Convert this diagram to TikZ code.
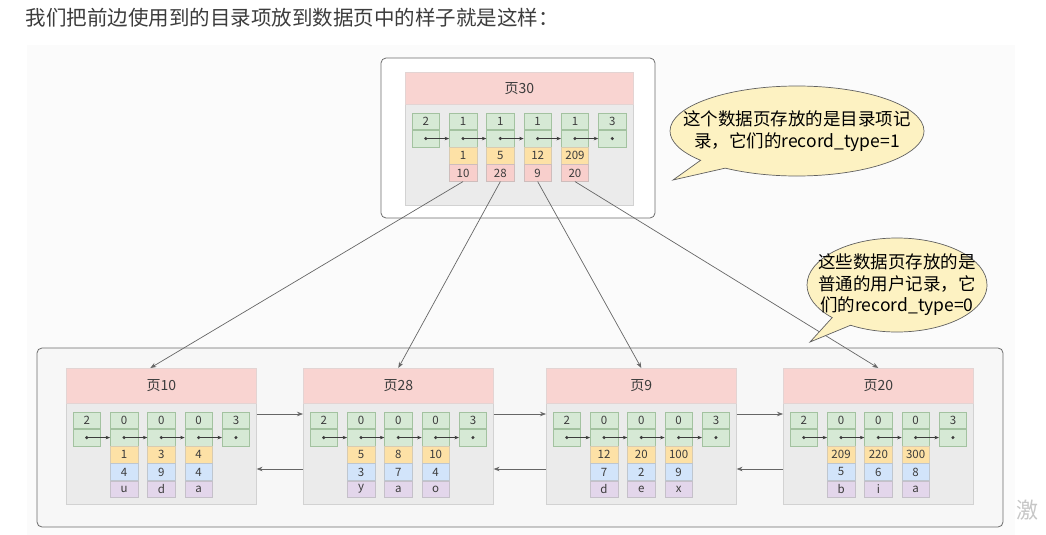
\documentclass[tikz,border=0pt]{standalone}
\usepackage{fontspec}
\setmainfont{Noto Sans CJK SC}
\usepackage{tikz}
\usetikzlibrary{positioning, arrows.meta, shapes.callouts}

\definecolor{hdpink}{HTML}{F9D4D1}
\definecolor{cellgreen}{HTML}{D6E9D5}
\definecolor{greenline}{HTML}{A3C2A0}
\definecolor{keyorange}{HTML}{FDE1A6}
\definecolor{idblue}{HTML}{D2E4FA}
\definecolor{chpurple}{HTML}{E3D6EB}
\definecolor{pgpink}{HTML}{F8CFCC}
\definecolor{notefill}{HTML}{FDF2C2}
\definecolor{txtgray}{HTML}{3C3C3C}

\tikzset{
  cell/.style={minimum width=27.5pt, minimum height=16.7pt, inner sep=0pt,
    font=\fontsize{11.5}{12}\selectfont, text=txtgray, line width=0.5pt},
  hdcell/.style={cell, fill=cellgreen, draw=greenline},
  keycell/.style={cell, fill=keyorange, draw=keyorange!75!black!60},
  pgcell/.style={cell, fill=pgpink, draw=pgpink!70!black!60},
  idcell/.style={cell, fill=idblue, draw=idblue!70!black!60},
  chcell/.style={cell, fill=chpurple, draw=chpurple!70!black!60},
  pgbody/.style={fill=gray!16, draw=gray!35, line width=0.6pt, inner sep=0pt},
  pghead/.style={fill=hdpink, draw=hdpink!80!black!50, line width=0.6pt, inner sep=0pt,
    font=\fontsize{14}{16}\selectfont, text=txtgray},
  ptr/.style={-{Stealth[length=4.5pt, width=3.5pt]}, txtgray, line width=0.6pt},
  link/.style={-{Stealth[length=6pt, width=4.5pt]}, gray!80!black, line width=0.7pt},
  outerbox/.style={draw=gray!85!black, line width=0.8pt, rounded corners=5pt},
  note/.style={ellipse callout, draw=gray!75!black, fill=notefill, line width=0.7pt},
  notetext/.style={align=center, text=black, font=\fontsize{17.5}{21.5}\selectfont}
}

% leaf page: name, left x, title, records key/id/letter
\newcommand{\leafpage}[4]{%
\begin{scope}[shift={(#2,368)}]
\node[pgbody, minimum width=190pt, minimum height=136pt, anchor=north west] (#1) at (0,0) {};
\node[pghead, minimum width=190pt, minimum height=35pt, anchor=north west] (#1t) at (0,0) {#3};
\foreach \v [count=\i] in {2,0,0,0,3} {
  \node[hdcell] (#1h\i) at ({20.75+(\i-1)*37.3},52.35) {\v};
  \node[hdcell, below=0pt of #1h\i] (#1p\i) {};
  \fill[txtgray] (#1p\i.center) circle (1.7pt);
}
\foreach \i in {1,...,4} {
  \pgfmathtruncatemacro\j{\i+1}
  \draw[ptr] (#1p\i.center) -- (#1p\j.west);
}
\foreach \k/\id/\c [count=\i from 2] in {#4} {
  \node[keycell, below=0pt of #1p\i] (#1k\i) {\k};
  \node[idcell, below=0pt of #1k\i] (#1d\i) {\id};
  \node[chcell, below=0pt of #1d\i] (#1c\i) {\c};
}
\end{scope}}

\begin{document}
\begin{tikzpicture}[x=1pt, y=-1pt]
\useasboundingbox (0,0) rectangle (1046,535);
\fill[gray!3] (27,45) rectangle (1015,535);

\node[anchor=west, text=txtgray, font=\fontsize{20.5}{24}\selectfont] (title) at (22,18)
  {我们把前边使用到的目录项放到数据页中的样子就是这样：};

% directory page
\fill[white] (381,58) rectangle (655,218);
\draw[outerbox] (381,58) rectangle (655,218);
\begin{scope}[shift={(405,72)}]
\node[pgbody, minimum width=228pt, minimum height=133pt, anchor=north west] (p30) at (0,0) {};
\node[pghead, minimum width=228pt, minimum height=32pt, anchor=north west] (p30t) at (0,0) {页30};
\foreach \v [count=\i] in {2,1,1,1,1,3} {
  \node[hdcell] (p30h\i) at ({20.75+(\i-1)*37.3},49.35) {\v};
  \node[hdcell, below=0pt of p30h\i] (p30p\i) {};
  \fill[txtgray] (p30p\i.center) circle (1.7pt);
}
\foreach \i in {1,...,5} {
  \pgfmathtruncatemacro\j{\i+1}
  \draw[ptr] (p30p\i.center) -- (p30p\j.west);
}
\foreach \k/\pg [count=\i from 2] in {1/10,5/28,12/9,209/20} {
  \node[keycell, below=0pt of p30p\i] (p30k\i) {\k};
  \node[pgcell, below=0pt of p30k\i] (p30g\i) {\pg};
}
\end{scope}

% user record pages
\fill[gray!6] (37,348) rectangle (1003,527);
\draw[outerbox] (37,348) rectangle (1003,527);
\leafpage{p10}{66}{页10}{1/4/u,3/9/d,4/4/a}
\leafpage{p28}{303}{页28}{5/3/y,8/7/a,10/4/o}
\leafpage{p9}{546}{页9}{12/7/d,20/2/e,100/9/x}
\leafpage{p20}{783}{页20}{209/5/b,220/6/i,300/8/a}

\foreach \a/\b in {p10/p28,p28/p9,p9/p20} {
  \draw[link] ([yshift=-46pt]\a.north east) -- ([yshift=-46pt]\b.north west);
  \draw[link] ([yshift=-101pt]\b.north west) -- ([yshift=-101pt]\a.north east);
}

\draw[link] (p30g2.south) -- ([xshift=-11pt]p10.north);
\draw[link] (p30g3.south) -- (p28.north);
\draw[link] (p30g4.south) -- (p9.north);
\draw[link] (p30g5.south) -- (p20.north);

% notes
\node[note, minimum width=254pt, minimum height=90pt, callout absolute pointer={(673,180)},
  label={[notetext]center:这个数据页存放的是目录项记\\录，它们的record\_type=1}] (note1) at (797,131) {};
\node[note, minimum width=180pt, minimum height=94pt, callout absolute pointer={(810,342)},
  label={[notetext]center:这些数据页存放的是\\普通的用户记录，它\\们的record\_type=0}] (note2) at (897,285) {};

\node[anchor=west, text=gray!45, font=\fontsize{22}{24}\selectfont] (mark) at (1013,510) {激};
\end{tikzpicture}
\end{document}
